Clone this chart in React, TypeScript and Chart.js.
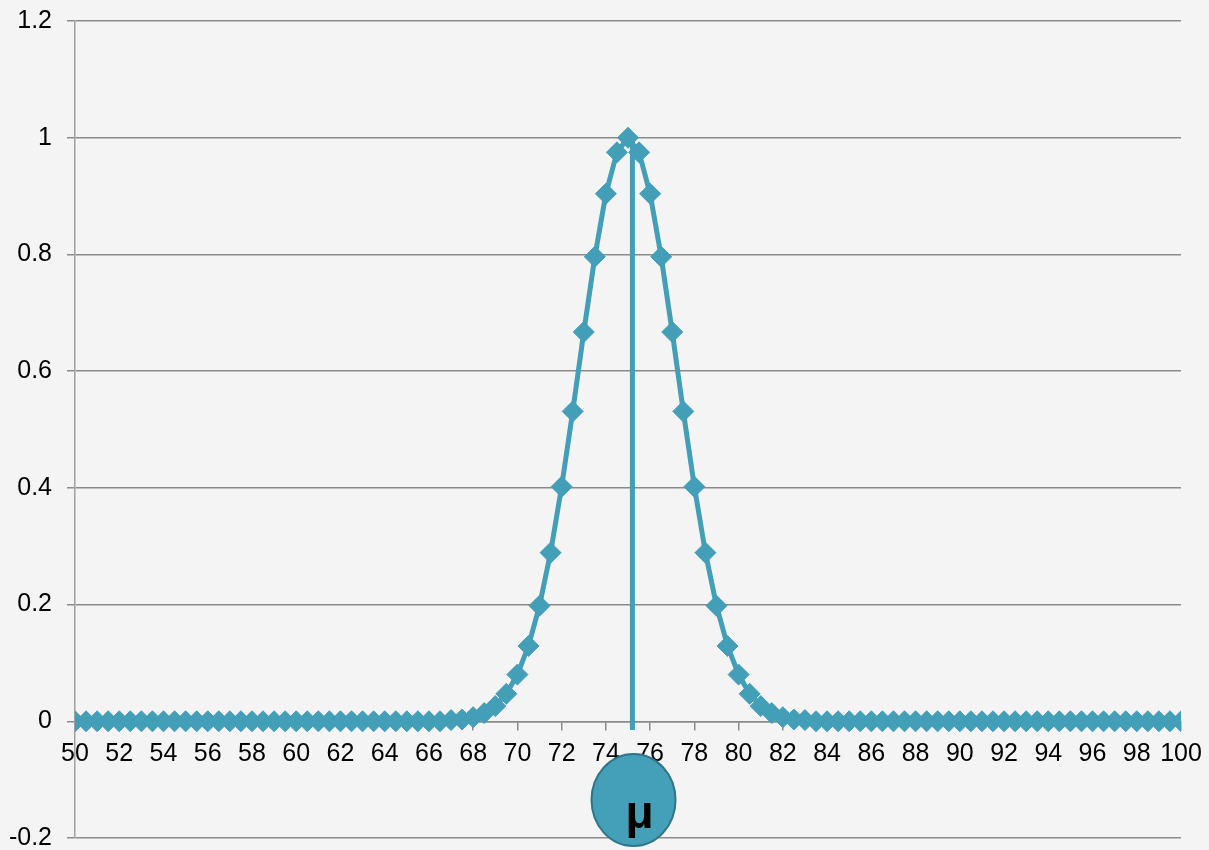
import React, { useEffect, useRef } from "react";
import { Chart, registerables } from "chart.js";
Chart.register(...registerables);

const xValues = [
  50, 50.5, 51, 51.5, 52, 52.5, 53, 53.5, 54, 54.5, 55, 55.5, 56, 56.5, 57, 57.5, 58, 58.5, 59, 59.5,
  60, 60.5, 61, 61.5, 62, 62.5, 63, 63.5, 64, 64.5, 65, 65.5, 66, 66.5, 67, 67.5, 68, 68.5, 69, 69.5,
  70, 70.5, 71, 71.5, 72, 72.5, 73, 73.5, 74, 74.5, 75, 75.5, 76, 76.5, 77, 77.5, 78, 78.5, 79, 79.5,
  80, 80.5, 81, 81.5, 82, 82.5, 83, 83.5, 84, 84.5, 85, 85.5, 86, 86.5, 87, 87.5, 88, 88.5, 89, 89.5,
  90, 90.5, 91, 91.5, 92, 92.5, 93, 93.5, 94, 94.5, 95, 95.5, 96, 96.5, 97, 97.5, 98, 98.5, 99, 99.5,
  100,
];

const yValues = [
  0, 0, 0, 0, 0, 0, 0, 0, 0, 0,
  0, 0, 0, 0, 0, 0, 0, 0, 0, 0,
  0, 0, 0, 0, 0, 0, 0, 0, 0, 0,
  0, 0, 0, 0,
  0.002, 0.003, 0.007, 0.014, 0.026, 0.047, 0.08, 0.129, 0.198, 0.289,
  0.402, 0.531, 0.667, 0.796, 0.904, 0.975,
  1,
  0.975, 0.904, 0.796, 0.667, 0.531, 0.402, 0.289, 0.198, 0.129, 0.08,
  0.047, 0.026, 0.014, 0.007, 0.003, 0.002,
  0, 0, 0, 0, 0, 0, 0, 0, 0, 0,
  0, 0, 0, 0, 0, 0, 0, 0, 0, 0,
  0, 0, 0, 0, 0, 0, 0, 0, 0, 0,
  0, 0, 0, 0,
];

const muLineX = [75.2, 75.2];
const muLineY = [1, -0.015];
const muLabel = "μ";
const muCenter = { x: 75.25, y: -0.135 };

const yTickLabels: Record<string, string> = {
  "-0.2": "-0.2", "0": "0", "0.2": "0.2", "0.4": "0.4", "0.6": "0.6",
  "0.8": "0.8", "1": "1", "1.2": "1.2",
};

const TEAL = "#439eb7";

const muPlugin = {
  id: "muBadge",
  afterDraw(chart: any) {
    const { ctx, scales } = chart;
    const cx = scales.x.getPixelForValue(muCenter.x);
    const cy = scales.y.getPixelForValue(muCenter.y);
    ctx.save();
    ctx.beginPath();
    ctx.ellipse(cx, cy, 42, 46, 0, 0, Math.PI * 2);
    ctx.fillStyle = "#44a0b8";
    ctx.fill();
    ctx.lineWidth = 2;
    ctx.strokeStyle = "#2f7587";
    ctx.stroke();
    ctx.fillStyle = "#000";
    ctx.font = "bold 46px 'Liberation Sans', Arial, sans-serif";
    ctx.textAlign = "center";
    ctx.textBaseline = "alphabetic";
    ctx.fillText(muLabel, cx + 6, cy + 28);
    ctx.restore();
  },
};

const zeroPad = (s: any) => {
  s.paddingTop = 0;
  s.paddingBottom = 0;
  s.paddingLeft = 0;
  s.paddingRight = 0;
};

export default function App() {
  const ref = useRef<HTMLCanvasElement>(null);
  useEffect(() => {
    if (!ref.current) return;
    const font = { family: "'Liberation Sans', Arial, sans-serif", size: 25, lineHeight: 1 };
    const chart = new Chart(ref.current, {
      type: "line",
      data: {
        datasets: [
          {
            data: muLineX.map((x, i) => ({ x, y: muLineY[i] })),
            borderColor: TEAL,
            borderWidth: 5,
            pointRadius: 0,
            fill: false,
          },
          {
            data: xValues.map((x, i) => ({ x, y: yValues[i] })),
            borderColor: TEAL,
            backgroundColor: TEAL,
            borderWidth: 5,
            pointStyle: "rectRot",
            pointRadius: 10.5,
            pointBorderWidth: 1,
            pointBorderColor: TEAL,
            pointBackgroundColor: TEAL,
            fill: false,
            tension: 0,
          },
        ],
      },
      options: {
        animation: false,
        responsive: true,
        maintainAspectRatio: false,
        layout: { padding: { left: 0, right: 28, top: 21, bottom: 12 } },
        plugins: { legend: { display: false }, tooltip: { enabled: false } },
        scales: {
          x: {
            type: "linear",
            position: { y: 0 } as any,
            min: 50,
            max: 100,
            afterFit: (s: any) => {
              s.height = 0;
              zeroPad(s);
            },
            ticks: {
              stepSize: 2,
              autoSkip: false,
              maxRotation: 0,
              color: "#000",
              font,
              padding: 12,
            },
            grid: { drawOnChartArea: false, drawTicks: true, tickLength: 8, color: "#8a8a8a", lineWidth: 1.5 },
            border: { display: true, color: "#8a8a8a", width: 1.5 },
          },
          y: {
            min: -0.2,
            max: 1.2,
            afterFit: (s: any) => {
              s.width = 75;
              zeroPad(s);
            },
            ticks: {
              stepSize: 0.2,
              color: "#000",
              font,
              padding: 15,
              callback: (v: any) => yTickLabels[String(Number(Number(v).toFixed(1)))] ?? "",
            },
            grid: { color: "#8a8a8a", lineWidth: 1.5, tickLength: 8, drawTicks: true },
            border: { display: true, color: "#a0a0a0", width: 1.5 },
          },
        },
      },
      plugins: [muPlugin],
    });
    return () => chart.destroy();
  }, []);
  return (
    <div style={{ position: "fixed", left: 0, top: 0, width: 1209, height: 850, background: "#f4f4f4" }}>
      <canvas ref={ref} />
    </div>
  );
}
